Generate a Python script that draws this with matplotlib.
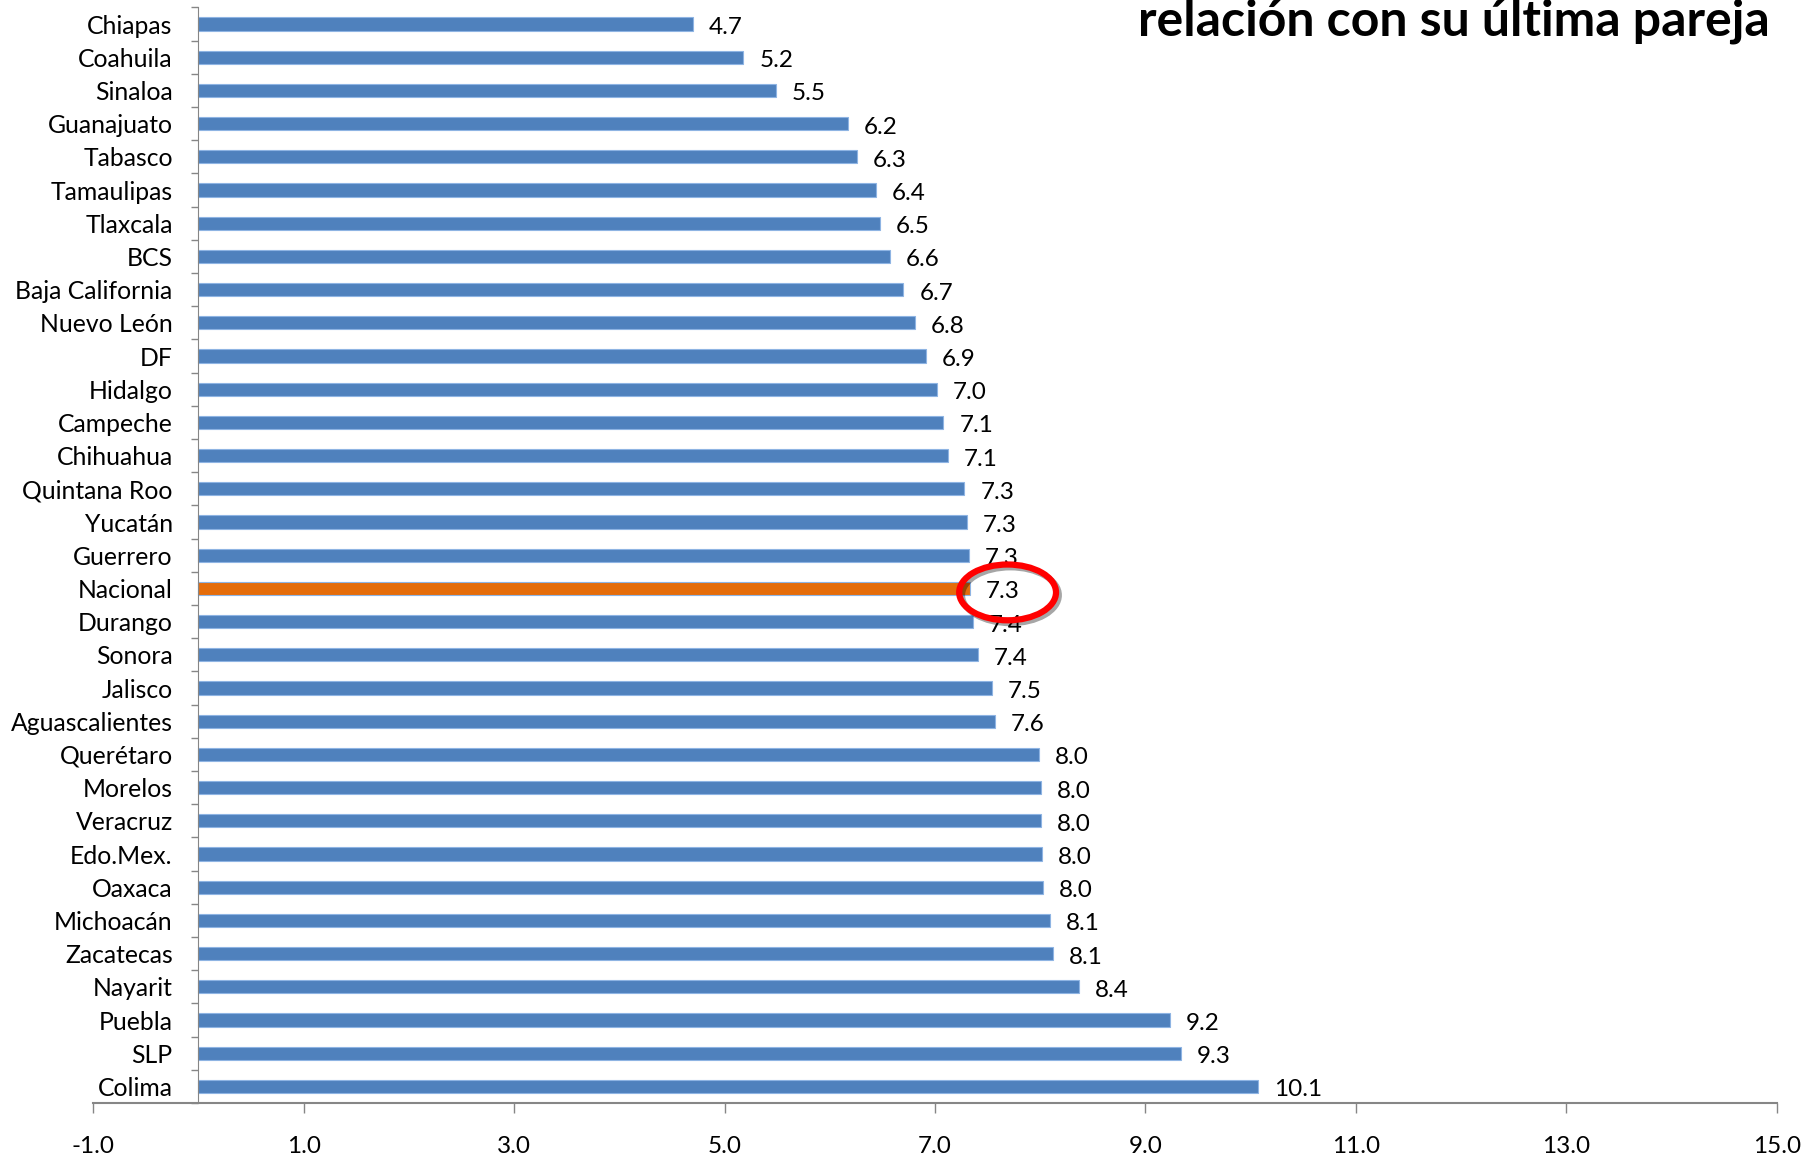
import matplotlib
matplotlib.use("Agg")
import matplotlib.pyplot as plt
from matplotlib.patches import Ellipse
import matplotlib.patheffects as pe
import numpy as np

estados = ["Chiapas", "Coahuila", "Sinaloa", "Guanajuato", "Tabasco", "Tamaulipas",
           "Tlaxcala", "BCS", "Baja California", "Nuevo León", "DF", "Hidalgo",
           "Campeche", "Chihuahua", "Quintana Roo", "Yucatán", "Guerrero", "Nacional",
           "Durango", "Sonora", "Jalisco", "Aguascalientes", "Querétaro", "Morelos",
           "Veracruz", "Edo.Mex.", "Oaxaca", "Michoacán", "Zacatecas", "Nayarit",
           "Puebla", "SLP", "Colima"]
valores = [4.70, 5.18, 5.49, 6.17, 6.26, 6.44, 6.48, 6.57, 6.70, 6.81, 6.91, 7.02,
           7.08, 7.12, 7.28, 7.30, 7.32, 7.33, 7.36, 7.41, 7.54, 7.57, 7.99, 8.01,
           8.01, 8.02, 8.03, 8.09, 8.12, 8.37, 9.23, 9.34, 10.07]
destacado = "Nacional"
xticks = np.arange(-1, 16, 2)

plt.rcParams['font.family'] = ['Lato', 'DejaVu Sans']

fig = plt.figure(figsize=(18.18, 11.59), dpi=100)
ax = fig.add_axes([0.0512, 0.0483, 0.9262, 0.9453])

for s in ["top", "right"]:
    ax.spines[s].set_visible(False)
ax.spines["left"].set_position(("data", 0))
ax.spines["left"].set_color("#868686")
ax.spines["bottom"].set_color("#868686")
ax.spines["bottom"].set_linewidth(1.5)

y = np.arange(len(estados))
colores = ["#E46C0A" if e == destacado else "#4F81BD" for e in estados]
ax.barh(y, valores, height=0.4, color=colores, edgecolor="#8EB4E3", linewidth=0.8)

for i, v in enumerate(valores):
    ax.annotate(f"{v:.1f}", (v, i), xytext=(11.5, -2.5), textcoords="offset points",
                ha="left", va="center", fontsize=17.5)

ax.set_xlim(-1, 15)
ax.set_ylim(len(estados) - 0.5, -0.5)
ax.set_xticks(xticks)
ax.set_xticklabels([f"{t:.1f}" for t in xticks], fontsize=17.5)
ax.tick_params(axis="x", length=7, width=1, color="#868686", pad=17, direction="out")

ax.set_yticks(y)
ax.set_yticklabels(estados, fontsize=17.8)
ax.set_yticks(np.arange(len(estados) + 1) - 0.5, minor=True)
ax.tick_params(axis="y", which="major", length=0, pad=18.5)
ax.tick_params(axis="y", which="minor", length=5, width=1, color="#868686", direction="out")

# circulo rojo sobre el dato nacional
k = estados.index(destacado)
elipse = Ellipse((valores[k] + 0.36, k + 0.12), 0.92, 1.68, fill=False, edgecolor="#FF0000",
                 linewidth=4.5, zorder=5,
                 path_effects=[pe.SimpleLineShadow(offset=(2, -2), alpha=0.35), pe.Normal()])
ax.add_patch(elipse)

fig.text(0.9736, 1 - 36 / 1159, "relación con su última pareja", ha="right",
         va="baseline", fontsize=36, fontweight="bold")

fig.savefig("out.png", dpi=100)
